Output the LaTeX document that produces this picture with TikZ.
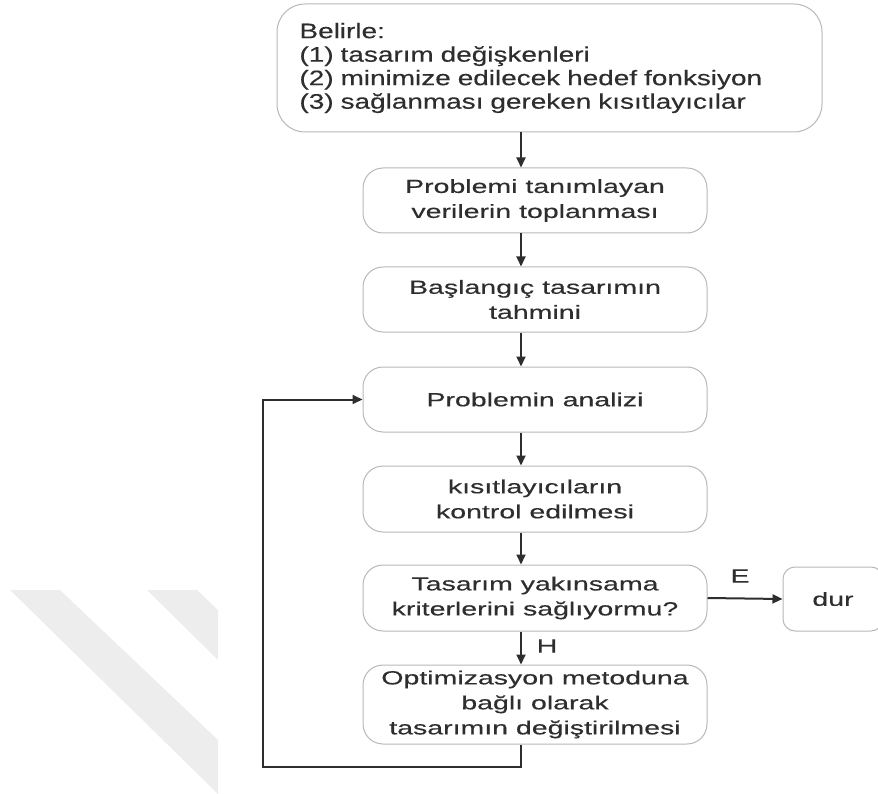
\documentclass[tikz,border=0pt]{standalone}
\usepackage{fontspec}
\setmainfont{Liberation Sans}[FakeStretch=1.5,FakeBold=0.3]
\newfontfamily\goalfont{Liberation Sans}[FakeStretch=1.33,FakeBold=0.3]
\usetikzlibrary{arrows.meta,calc}
\definecolor{ink}{HTML}{2E2E2E}
\definecolor{rim}{HTML}{B8B8B8}
\definecolor{stripegray}{HTML}{EDEDED}
\begin{document}
\begin{tikzpicture}[x=1pt,y=-1pt,
  box/.style={draw=rim, line width=1pt, rounded corners=20pt, fill=white,
    text=ink, align=center, minimum width=344pt, inner sep=0pt,
    font=\fontsize{19}{25}\selectfont},
  flow/.style={draw=ink, line width=2pt, -{Triangle[length=10pt,width=9pt]}},
  lbl/.style={text=ink, inner sep=0pt, font=\fontsize{19}{22}\selectfont}]
\useasboundingbox (0,0) rectangle (878,794);
\clip (0,0) rectangle (878,794);

% faint diagonal stripes in the lower left corner
\fill[stripegray] (10,590) -- (60,590) -- (218,740) -- (218,794) -- cycle;
\fill[stripegray] (147,590) -- (197,590) -- (218,610) -- (218,660) -- cycle;

% x position of the main vertical flow
\coordinate (ax) at (521,0);

% boxes
\node[box, minimum width=545pt, minimum height=128pt, rounded corners=28pt,
      align=left, text width=500pt, font=\goalfont\fontsize{21}{23.5}\selectfont]
      (goal) at (549.5,68)
  {Belirle:\\(1) tasarım değişkenleri\\(2) minimize edilecek hedef fonksiyon\\(3) sağlanması gereken kısıtlayıcılar};
\node[box, minimum height=65pt] (data) at (535,200.5)
  {Problemi tanımlayan\\verilerin toplanması};
\node[box, minimum height=65pt] (init) at (535,299.5)
  {Başlangıç tasarımın\\tahmini};
\node[box, minimum height=65pt] (anal) at (535,399.5)
  {Problemin analizi};
\node[box, minimum height=66pt] (cons) at (535,499)
  {kısıtlayıcıların\\kontrol edilmesi};
\node[box, minimum height=66pt] (conv) at (535,598)
  {Tasarım yakınsama\\kriterlerini sağlıyormu?};
\node[box, minimum height=79pt] (opt) at (535,704.5)
  {Optimizasyon metoduna\\bağlı olarak\\tasarımın değiştirilmesi};
\node[box, minimum width=100pt, minimum height=64pt, rounded corners=12pt]
  (stop) at (833,599) {dur};

% connectors
\draw[flow] (goal.south -| ax) -- (data.north -| ax);
\draw[flow] (data.south -| ax) -- (init.north -| ax);
\draw[flow] (init.south -| ax) -- (anal.north -| ax);
\draw[flow] (anal.south -| ax) -- (cons.north -| ax);
\draw[flow] (cons.south -| ax) -- (conv.north -| ax);
\draw[flow] (conv.south -| ax) -- (opt.north -| ax);
\draw[flow] (conv.east) -- (stop.west);
\coordinate (back) at (263,767);
\draw[flow] (opt.south -| ax) |- (back) |- (anal.west);

% branch labels
\node[lbl] (yes) at (740,576) {E};
\node[lbl] (no) at (547,646) {H};
\end{tikzpicture}
\end{document}
